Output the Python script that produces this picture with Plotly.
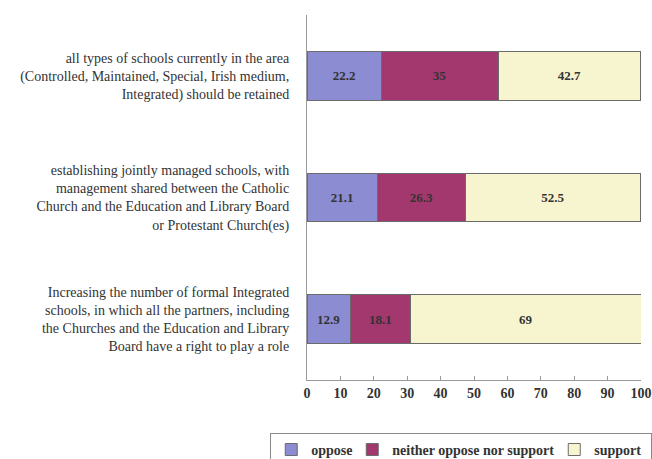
import plotly.graph_objects as go

statements = [
    "all types of schools currently in the area<br>(Controlled, Maintained, Special, Irish medium,<br>Integrated) should be retained",
    "establishing jointly managed schools, with<br>management shared between the Catholic<br>Church and the Education and Library Board<br>or Protestant Church(es)",
    "Increasing the number of formal Integrated<br>schools, in which all the partners, including<br>the Churches and the Education and Library<br>Board have a right to play a role",
]
oppose = [22.2, 21.1, 12.9]
neither = [35, 26.3, 18.1]
support = [42.7, 52.5, 69]
x_ticks = [0, 10, 20, 30, 40, 50, 60, 70, 80, 90, 100]

SERIF = "Liberation Serif"

# name, values, fill colour, legend entry width
series = [
    ("oppose", oppose, "#8c8cd2", 36),
    ("neither oppose nor support", neither, "#a3386f", 157),
    ("support", support, "#f7f5cf", 52),
]

fig = go.Figure()
for name, vals, color, lw in series:
    fig.add_trace(go.Bar(
        y=statements,
        x=vals,
        name=name,
        orientation="h",
        width=0.4,
        legendwidth=lw,
        marker={"color": color, "line": {"color": "#6b6b6b", "width": 1}},
        text=[f"{v:g}" for v in vals],
        textposition="inside",
        insidetextanchor="middle",
        textangle=0,
        textfont={"family": SERIF, "size": 13, "color": "#333333", "weight": "bold"},
    ))

fig.update_layout(
    barmode="stack",
    width=652,
    height=459,
    paper_bgcolor="white",
    plot_bgcolor="white",
    margin={"l": 307, "r": 11, "t": 15, "b": 79, "autoexpand": False},
    font={"family": SERIF, "color": "#333333"},
    uniformtext={"minsize": 8, "mode": "show"},
    legend={
        "orientation": "h",
        "x": -0.11,
        "xanchor": "left",
        "y": -0.145,
        "yanchor": "top",
        "bordercolor": "#8a8a8a",
        "borderwidth": 1,
        "font": {"family": SERIF, "size": 14, "color": "#333333", "weight": "bold"},
        "itemwidth": 30,
        "traceorder": "normal",
    },
    xaxis={
        "range": [0, 100],
        "tickvals": x_ticks,
        "showgrid": False,
        "zeroline": False,
        "showline": True,
        "linecolor": "#9a9a9a",
        "ticks": "inside",
        "ticklen": 4,
        "tickcolor": "#9a9a9a",
        "automargin": False,
        "tickfont": {"family": SERIF, "size": 14, "color": "#333333", "weight": "bold"},
    },
    yaxis={
        "autorange": "reversed",
        "showgrid": False,
        "zeroline": False,
        "showline": True,
        "linecolor": "#9a9a9a",
        "automargin": False,
        "ticklabelstandoff": 14,
        "tickfont": {"family": SERIF, "size": 14, "color": "#333333"},
    },
)

# the page's default body margin would shift the figure by 8px
fig.write_html(
    "out.html",
    config={"displayModeBar": False},
    post_script="document.body.style.margin = '0';",
)
